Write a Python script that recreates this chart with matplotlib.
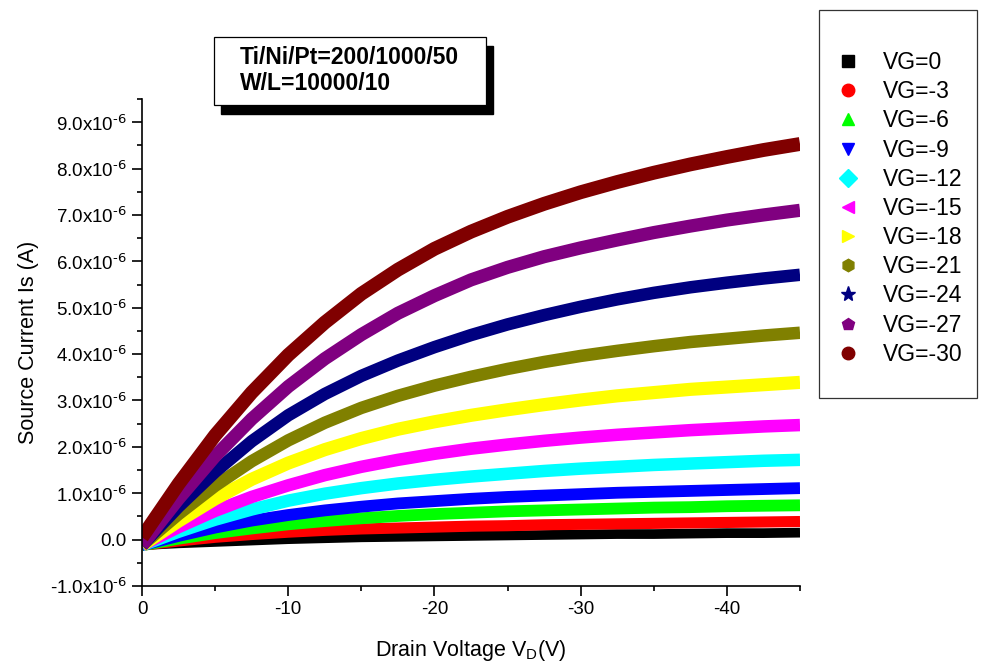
import numpy as np
import matplotlib.pyplot as plt
from matplotlib.lines import Line2D
from matplotlib.patches import Rectangle
from matplotlib.ticker import FuncFormatter, MultipleLocator

plt.rcParams['font.family'] = ['Liberation Sans', 'DejaVu Sans']
plt.rcParams['mathtext.default'] = 'regular'
plt.rcParams['axes.unicode_minus'] = False

# drain voltage (V)
vd = [0, -2.5, -5, -7.5, -10, -12.5, -15, -17.5, -20, -22.5, -25,
      -27.5, -30, -32.5, -35, -37.5, -40, -42.5, -45]

# source current in uA
is_vg0 = [-0.12, -0.08, -0.05, -0.02, 0.01, 0.03, 0.05, 0.06, 0.07, 0.08, 0.09,
          0.10, 0.11, 0.12, 0.12, 0.13, 0.14, 0.14, 0.15]
is_vg3 = [-0.12, -0.03, 0.05, 0.11, 0.16, 0.20, 0.23, 0.25, 0.27, 0.29, 0.30,
          0.32, 0.33, 0.34, 0.35, 0.36, 0.37, 0.38, 0.39]
is_vg6 = [-0.12, 0.02, 0.14, 0.24, 0.33, 0.40, 0.46, 0.51, 0.55, 0.58, 0.61,
          0.63, 0.65, 0.67, 0.69, 0.70, 0.72, 0.73, 0.74]
is_vg9 = [-0.12, 0.08, 0.26, 0.41, 0.53, 0.63, 0.71, 0.78, 0.83, 0.88, 0.92,
          0.95, 0.98, 1.01, 1.03, 1.05, 1.07, 1.09, 1.11]
is_vg12 = [-0.12, 0.17, 0.43, 0.65, 0.84, 0.99, 1.11, 1.21, 1.29, 1.36, 1.42,
           1.48, 1.53, 1.57, 1.61, 1.64, 1.67, 1.70, 1.72]
is_vg15 = [-0.12, 0.27, 0.62, 0.92, 1.17, 1.39, 1.57, 1.72, 1.85, 1.96, 2.05,
           2.13, 2.20, 2.26, 2.31, 2.36, 2.40, 2.44, 2.47]
is_vg18 = [-0.12, 0.40, 0.88, 1.30, 1.65, 1.94, 2.18, 2.38, 2.54, 2.68, 2.80,
           2.91, 3.01, 3.10, 3.17, 3.24, 3.29, 3.34, 3.39]
is_vg21 = [-0.12, 0.55, 1.16, 1.69, 2.14, 2.52, 2.84, 3.10, 3.32, 3.51, 3.68,
           3.83, 3.96, 4.07, 4.17, 4.26, 4.33, 4.40, 4.46]
is_vg24 = [-0.12, 0.71, 1.46, 2.12, 2.68, 3.14, 3.53, 3.86, 4.15, 4.41, 4.64,
           4.84, 5.02, 5.18, 5.32, 5.44, 5.54, 5.63, 5.71]
is_vg27 = [-0.12, 0.88, 1.80, 2.60, 3.30, 3.90, 4.42, 4.88, 5.26, 5.60, 5.87,
           6.10, 6.29, 6.46, 6.62, 6.76, 6.89, 7.00, 7.10]
is_vg30 = [0.05, 1.20, 2.25, 3.17, 3.98, 4.68, 5.30, 5.82, 6.27, 6.64, 6.96,
           7.24, 7.49, 7.71, 7.91, 8.09, 8.25, 8.40, 8.53]

series = [is_vg0, is_vg3, is_vg6, is_vg9, is_vg12, is_vg15, is_vg18,
          is_vg21, is_vg24, is_vg27, is_vg30]
labels = ['VG=0', 'VG=-3', 'VG=-6', 'VG=-9', 'VG=-12', 'VG=-15', 'VG=-18',
          'VG=-21', 'VG=-24', 'VG=-27', 'VG=-30']
colors = ['#000000', '#FF0000', '#00FF00', '#0000FF', '#00FFFF', '#FF00FF',
          '#FFFF00', '#808000', '#000080', '#800080', '#800000']
markers = ['s', 'o', '^', 'v', 'D', '<', '>', 'h', '*', 'p', 'o']
widths = [7, 8, 8.5, 8.5, 9, 9, 9.5, 9, 9, 9.5, 10]

W, H = 981, 671
def fx(px):
    return px / W
def fy(py):
    return 1 - py / H

fig = plt.figure(figsize=(W / 100, H / 100), dpi=100)
ax = fig.add_axes([fx(142), fy(586), (800 - 142) / W, (586 - 99) / H])

for y, c, lw in zip(series, colors, widths):
    ax.plot(vd, np.array(y) * 1e-6, '-', color=c, lw=lw,
            solid_capstyle='butt', solid_joinstyle='round')

ax.set_xlim(0, -45)
ax.set_ylim(-1e-6, 9.5e-6)
ax.spines['top'].set_visible(False)
ax.spines['right'].set_visible(False)
for s in ['left', 'bottom']:
    ax.spines[s].set_linewidth(1.2)

ax.xaxis.set_major_locator(MultipleLocator(10))
ax.xaxis.set_minor_locator(MultipleLocator(5))
ax.yaxis.set_major_locator(MultipleLocator(1e-6))
ax.yaxis.set_minor_locator(MultipleLocator(0.5e-6))

def yfmt(v, pos):
    m = v / 1e-6
    if abs(m) < 1e-9:
        return '0.0'
    return '%.1fx10$^{\\text{-6}}$' % m

def xfmt(v, pos):
    return '%d' % round(v)

ax.yaxis.set_major_formatter(FuncFormatter(yfmt))
ax.xaxis.set_major_formatter(FuncFormatter(xfmt))
ax.tick_params(which='major', direction='out', length=7, width=1.2,
               labelsize=13.5, pad=4)
ax.tick_params(which='minor', direction='out', length=3.5, width=1.2)

ax.set_xlabel('Drain Voltage V$_D$(V)', fontsize=15.5, labelpad=14)
ax.set_ylabel('Source Current Is (A)', fontsize=15.5, labelpad=8)

# legend with its own box
fig.add_artist(Rectangle((fx(819), fy(398)), (977 - 819) / W, (398 - 10) / H,
                         transform=fig.transFigure, fill=False,
                         edgecolor='#333333', lw=0.9))
handles = [Line2D([], [], ls='none', marker=m, color=c, ms=9 if m != '*' else 11)
           for m, c in zip(markers, colors)]
ax.legend(handles, labels, loc='upper left', bbox_to_anchor=(fx(837), fy(51)),
          bbox_transform=fig.transFigure, frameon=False, borderpad=0,
          borderaxespad=0, fontsize=16.5, handlelength=1.0,
          handletextpad=1.0, labelspacing=0.27)

# text box with shadow
fig.add_artist(Rectangle((fx(221), fy(114)), (493 - 221) / W, (114 - 46) / H,
                         transform=fig.transFigure, facecolor='black',
                         edgecolor='black'))
fig.add_artist(Rectangle((fx(214), fy(105)), (486 - 214) / W, (105 - 37) / H,
                         transform=fig.transFigure, facecolor='white',
                         edgecolor='black', lw=0.9))
fig.text(fx(240), fy(64), 'Ti/Ni/Pt=200/1000/50', fontsize=16.5,
         fontweight='bold', va='baseline')
fig.text(fx(240), fy(90), 'W/L=10000/10', fontsize=16.5,
         fontweight='bold', va='baseline')

fig.savefig('out.png', dpi=100)
